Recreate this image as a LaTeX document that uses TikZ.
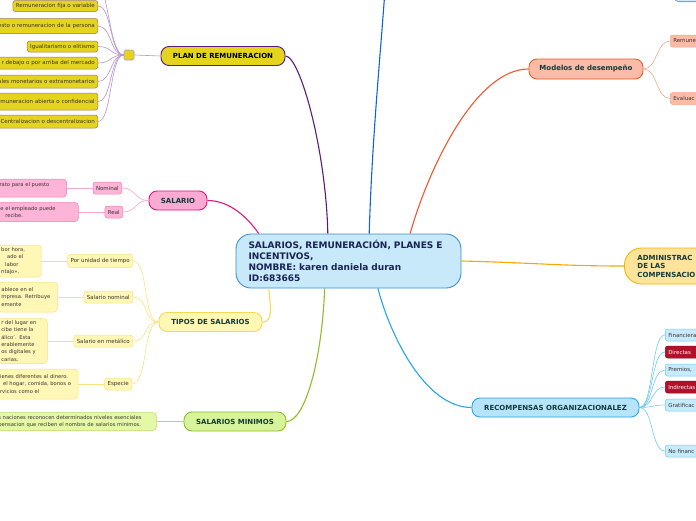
\documentclass[tikz,border=0pt]{standalone}
\usepackage{fontspec}
\setmainfont{DejaVu Sans}
\usetikzlibrary{positioning}

\definecolor{centrefill}{HTML}{C8E9FA}
\definecolor{centreline}{HTML}{3A8ED2}
\definecolor{centretext}{HTML}{1A2452}
\definecolor{topictext}{HTML}{123B3A}
\definecolor{leaftext}{HTML}{3B3330}
\definecolor{planfill}{HTML}{E4D51C}
\definecolor{planline}{HTML}{5A1C78}
\definecolor{plantwig}{HTML}{B793CF}
\definecolor{planedge}{HTML}{9B7B50}
\definecolor{pinkfill}{HTML}{FBAAD3}
\definecolor{pinkline}{HTML}{E5137B}
\definecolor{pinkleaf}{HTML}{FDB4D7}
\definecolor{pinkedge}{HTML}{F07DB6}
\definecolor{pinktwig}{HTML}{F7A6CB}
\definecolor{yelfill}{HTML}{FFF7B5}
\definecolor{yelline}{HTML}{F3DA55}
\definecolor{yeledge}{HTML}{F6E27E}
\definecolor{grnfill}{HTML}{D8F49A}
\definecolor{grnleaf}{HTML}{E4F8A8}
\definecolor{grnline}{HTML}{8CBF24}
\definecolor{grnedge}{HTML}{B2DB66}
\definecolor{salfill}{HTML}{FBBBA6}
\definecolor{salline}{HTML}{F0582C}
\definecolor{saledge}{HTML}{F6A68C}
\definecolor{orgfill}{HTML}{FEE39B}
\definecolor{orgline}{HTML}{F5A900}
\definecolor{orgedge}{HTML}{F6B800}
\definecolor{skyfill}{HTML}{B6E4FB}
\definecolor{skyleaf}{HTML}{C6EBFC}
\definecolor{skyline}{HTML}{27A5E6}
\definecolor{skyedge}{HTML}{72C9F1}
\definecolor{redfill}{HTML}{B3112B}
\definecolor{rededge}{HTML}{880A1D}
\definecolor{bluline}{HTML}{1462D6}
\definecolor{topfill}{HTML}{D4E6FB}
\definecolor{topedge}{HTML}{6FA3E8}

\begin{document}
\begin{tikzpicture}[
    x=1pt, y=-1pt,
    font=\fontsize{5.5}{7.3}\selectfont,
    node distance=26pt,
    centre/.style={draw=centreline, fill=centrefill, line width=0.9pt, rounded corners=15pt, text=centretext,
        font=\fontsize{9}{11}\selectfont\bfseries, align=left, text width=200pt, minimum width=225pt, minimum height=54pt},
    topic/.style={draw, line width=0.9pt, rounded corners=8pt, text=topictext,
        font=\fontsize{7}{8.5}\selectfont\bfseries, minimum height=19pt},
    leaf/.style={draw, line width=0.5pt, rounded corners=2.5pt, inner xsep=3pt, inner ysep=1pt, minimum height=12pt, text=leaftext},
    note/.style={leaf, align=left, rounded corners=3.5pt, font=\fontsize{5.2}{7.3}\selectfont},
    planleaf/.style={leaf, draw=planedge, fill=planfill, anchor=east},
    clipped/.style={align=left, text width=#1},
    rclipped/.style={align=right, text width=#1},
    branch/.style={line width=1.1pt},
    twig/.style={line width=0.6pt}
]
\useasboundingbox (0,0) rectangle (696,520);
\clip (0,0) rectangle (696,520);

% centre and main topics
\node[centre] (centre) at (348.5,261) {SALARIOS, REMUNERACIÓN, PLANES E\\INCENTIVOS,\\NOMBRE: karen daniela duran\\ID:683665};
\node[topic, draw=planline, fill=planfill, text=black, minimum width=124pt] (plan) at (223,56) {PLAN DE REMUNERACION};
\node[topic, draw=pinkline, fill=pinkfill, minimum width=58pt] (salario) at (178,200.5) {SALARIO};
\node[topic, draw=yelline, fill=yelfill, minimum width=103pt] (tipos) at (210.5,322) {TIPOS DE SALARIOS};
\node[topic, draw=grnline, fill=grnfill, minimum width=102pt] (minimos) at (235,421.5) {SALARIOS MINIMOS};
\node[topic, draw=salline, fill=salfill, minimum width=114pt, minimum height=20pt] (modelos) at (586,69) {Modelos de desempeño};
\node[topic, draw=skyline, fill=skyfill, minimum width=167pt] (recomp) at (555.5,407.5) {RECOMPENSAS ORGANIZACIONALEZ};
\node[topic, draw=orgedge, fill=orgfill, rounded corners=17pt, anchor=west, align=left, text width=80pt,
    minimum height=36pt, inner xsep=13pt] (admin) at (624,266) {ADMINISTRAC\\DE LAS\\COMPENSACIO};
\node[draw=topedge, fill=topfill, line width=0.8pt, rounded corners=4pt, anchor=south west,
    minimum width=40pt, minimum height=16pt] (topbox) at (674,2) {};
\coordinate (upend) at (385,-10);

% plan de remuneracion
\node[draw=plantwig, fill=planfill, line width=0.6pt, rounded corners=1.5pt, minimum size=10pt, inner sep=0pt] (hub) at (129,55) {};
\node[planleaf, minimum height=11pt] (pl1) at (98,6) {Remuneracion fija o variable};
\node[planleaf, rclipped=100pt, minimum height=15pt] (pl2) at (98,26) {esto o remuneracion de la persona};
\node[planleaf, minimum height=11pt] (pl3) at (98,46.5) {Igualitarismo o elitismo};
\node[planleaf, rclipped=100pt] (pl4) at (98,63) {r debajo o por arriba del mercado};
\node[planleaf, rclipped=100pt, minimum height=13pt] (pl5) at (98,81.5) {ales monetarios o extramonetarios};
\node[planleaf, rclipped=100pt, minimum height=17pt] (pl6) at (98,101.5) {emuneracion abierta o confidencial};
\node[planleaf, minimum height=13pt] (pl7) at (98,121.5) {Centralizacion o descentralizacion};
\coordinate (plup) at (98,-14);

% salario
\node[leaf, draw=pinkedge, fill=pinkleaf, anchor=east] (nominal) at (122,188) {Nominal};
\node[leaf, draw=pinkedge, fill=pinkleaf, anchor=east] (real) at (123,212) {Real};
\node[note, draw=pinkedge, fill=pinkleaf, left=of nominal, text width=64pt, minimum height=18pt] (nominalnote) {rato para el puesto\\\mbox{}};
\node[note, draw=pinkedge, fill=pinkleaf, left=of real, text width=75pt, minimum height=19pt] (realnote) {e el empleado puede\\\hspace*{5pt}recibe.};

% tipos de salarios
\node[leaf, draw=yeledge, fill=yelfill, anchor=east, minimum height=13pt] (unidad) at (133,261) {Por unidad de tiempo};
\node[leaf, draw=yeledge, fill=yelfill, anchor=east] (snominal) at (133,297) {Salario nominal};
\node[leaf, draw=yeledge, fill=yelfill, anchor=east] (metalico) at (133,341) {Salario en metálico};
\node[leaf, draw=yeledge, fill=yelfill, anchor=east] (especie) at (132,384) {Especie};
\node[note, draw=yeledge, fill=yelfill, left=of unidad, text width=37pt, minimum height=32pt] (unidadnote)
    {bor hora,\\\hspace*{6pt}ado el\\\hspace*{4pt}labor\\ntajo».};
\node[note, draw=yeledge, fill=yelfill, left=of snominal, text width=53pt, minimum height=30pt] (snominalnote)
    {ablece en el\\mpresa. Retribuye\\emente};
\node[note, draw=yeledge, fill=yelfill, left=of metalico, text width=43pt, minimum height=45pt] (metaliconote)
    {r del lugar en\\cibe tiene la\\álico'. Esta\\erablemente\\os digitales y\\carias.};
\node[note, draw=yeledge, fill=yelfill, left=of especie, text width=75pt, minimum height=30pt] (especienote)
    {ienes diferentes al dinero.\\\hspace*{3pt}el hogar, comida, bonos o\\rvicios como el};

% salarios minimos
\node[note, draw=grnedge, fill=grnleaf, left=27pt of minimos, text width=155pt, minimum height=18pt] (minimosnote)
    {s naciones reconocen determinados niveles esenciales\\pensacion que reciben el nombre de salarios minimos.};

% modelos de desempeño
\node[leaf, draw=saledge, fill=salfill, anchor=west, clipped=50pt] (remune) at (670,41) {Remune};
\node[leaf, draw=saledge, fill=salfill, anchor=west, clipped=50pt] (evaluac) at (670,98.5) {Evaluac};

% recompensas organizacionalez
\node[leaf, draw=skyedge, fill=skyleaf, anchor=west, clipped=50pt] (fin) at (665,335) {Financiera};
\node[leaf, draw=rededge, fill=redfill, text=white, anchor=west, clipped=50pt] (dir) at (665,352) {Directas};
\node[leaf, draw=skyedge, fill=skyleaf, anchor=west, clipped=50pt] (prem) at (665,370) {Premios,};
\node[leaf, draw=rededge, fill=redfill, text=white, anchor=west, clipped=50pt] (ind) at (665,387) {Indirectas};
\node[leaf, draw=skyedge, fill=skyleaf, anchor=west, clipped=50pt] (grat) at (665,405) {Gratificac};
\node[leaf, draw=skyedge, fill=skyleaf, anchor=west, clipped=50pt] (nofin) at (665,451) {No financ};

% branches
\draw[branch, planline] (centre.127) .. controls (326,150) and (300,56) .. (plan.east);
\draw[branch, pinkline] (centre.163) .. controls (248,218) and (230,200.5) .. (salario.east);
\draw[branch, yelline] (centre.199) .. controls (270,305) and (274,322) .. (tipos.east);
\draw[branch, grnline] (centre.229) .. controls (322,360) and (305,421.5) .. (minimos.east);
\draw[branch, bluline] (centre.53) .. controls (372,140) and (380,60) .. (upend);
\draw[branch, salline] (centre.24) .. controls (428,170) and (475,69) .. (modelos.west);
\draw[branch, orgline] (centre.east) .. controls (540,263) and (560,266) .. (admin.west);
\draw[branch, skyline] (centre.317) .. controls (390,335) and (425,407.5) .. (recomp.west);

% twigs
\draw[twig, plantwig] (hub.east) -- (plan.west);
\foreach \leaf in {pl1,pl2,pl3,pl4,pl5,pl6,pl7}
    \draw[twig, plantwig] (hub.west) .. controls +(-14,0) and +(14,0) .. (\leaf.east);
\draw[twig, plantwig] (hub.west) .. controls +(-14,0) and +(10,0) .. (plup);
\foreach \leaf in {nominal,real}
    \draw[twig, pinktwig] (salario.west) .. controls +(-14,0) and +(14,0) .. (\leaf.east);
\draw[twig, pinktwig] (nominal.west) -- (nominalnote.east);
\draw[twig, pinktwig] (real.west) -- (realnote.east);
\foreach \leaf in {unidad,snominal,metalico,especie}
    \draw[twig, yeledge] (tipos.west) .. controls +(-16,0) and +(16,0) .. (\leaf.east);
\draw[twig, yeledge] (unidad.west) -- (unidadnote.east);
\draw[twig, yeledge] (snominal.west) -- (snominalnote.east);
\draw[twig, yeledge] (metalico.west) -- (metaliconote.east);
\draw[twig, yeledge] (especie.west) -- (especienote.east);
\draw[twig, grnedge] (minimos.west) -- (minimosnote.east);
\foreach \leaf in {remune,evaluac}
    \draw[twig, saledge] (modelos.east) .. controls +(14,0) and +(-14,0) .. (\leaf.west);
\foreach \leaf in {fin,dir,prem,ind,grat,nofin}
    \draw[twig, skyedge] (recomp.east) .. controls +(14,0) and +(-14,0) .. (\leaf.west);
\end{tikzpicture}
\end{document}
